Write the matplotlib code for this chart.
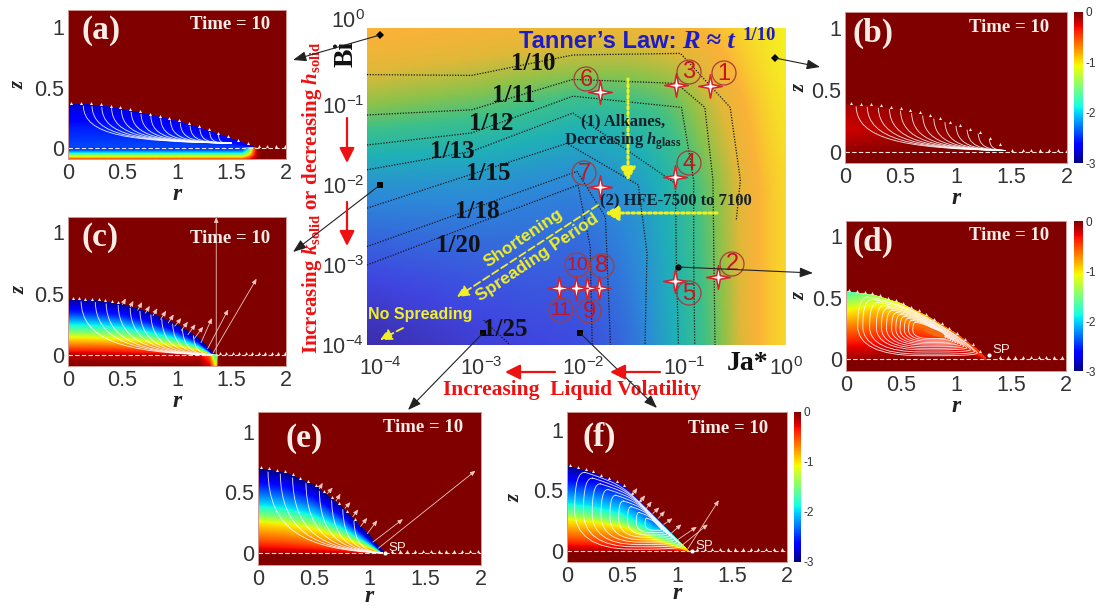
import numpy as np
import matplotlib
matplotlib.use("Agg")
import matplotlib.pyplot as plt
from matplotlib.colors import LinearSegmentedColormap
from matplotlib.patches import Circle, Ellipse, PathPatch
from matplotlib.path import Path
from matplotlib.cm import ScalarMappable
from matplotlib.colors import Normalize
from matplotlib.ticker import NullLocator

plt.rcParams['font.family'] = ['Liberation Sans', 'DejaVu Sans']
plt.rcParams['mathtext.fontset'] = 'custom'
plt.rcParams['mathtext.rm'] = 'Liberation Serif:bold'
plt.rcParams['mathtext.it'] = 'Liberation Serif:italic:bold'
plt.rcParams['mathtext.bf'] = 'Liberation Serif:bold'
SERIF = 'Liberation Serif'
W, H = 1099, 606

# ---------- main map ----------
ja_nodes = [-4.13, -3, -2, -1.5, -1.1, -0.7, -0.35, 0]
bi_nodes = [-4, -3, -2, -1, -0.5, -0.04]
map_values = [
    [.02, .12, .17, .27, .50, .66, .88, .97],
    [.18, .22, .23, .33, .52, .68, .88, .97],
    [.38, .38, .33, .40, .55, .70, .88, .97],
    [.72, .66, .58, .60, .66, .80, .92, .99],
    [.84, .80, .75, .75, .78, .86, .95, 1.0],
    [.91, .89, .86, .86, .89, .92, .97, 1.0],
]
map_colors = [(0, '#3b27a0'), (.15, '#3f45e0'), (.35, '#2c8ad8'), (.5, '#1fb0b8'),
              (.62, '#3dc08a'), (.72, '#8fc24a'), (.82, '#e0b838'), (.9, '#fbb238'), (1, '#f5f020')]

contour_1_10 = ([-4.13, -3.10, -2.10, -1.04, -0.55, -0.45, -0.49], [-0.62, -0.63, -0.375, -0.355, -1.03, -1.94, -2.44])
contour_1_11 = ([-4.13, -3.10, -2.10, -1.08, -0.80, -0.72, -0.70], [-1.125, -1.06, -0.68, -0.73, -1.03, -1.94, -4])
contour_1_12 = ([-4.13, -3.10, -2.10, -1.03, -0.91, -0.91, -0.90], [-1.5, -1.35, -0.89, -1.03, -1.94, -2.85, -4])
contour_1_13 = ([-4.13, -3.10, -2.10, -1.09, -1.08, -1.06], [-1.81, -1.58, -1.10, -1.98, -3.02, -4])
contour_1_15 = ([-4.13, -2.16, -1.455, -1.37, -1.39], [-2.29, -1.48, -2.0, -2.85, -4])
contour_1_18 = ([-4.13, -2.06, -1.78, -1.73], [-2.77, -1.83, -2.40, -4])
contour_1_20 = ([-4.13, -2.05, -1.93, -1.91], [-3.0, -2.0, -2.77, -4])
contour_1_25 = ([-2.98, -2.72], [-3.69, -4])
contours = [contour_1_10, contour_1_11, contour_1_12, contour_1_13, contour_1_15,
            contour_1_18, contour_1_20, contour_1_25]

star_ja = [-0.749, -1.084, -1.832, -1.094, -1.832, -0.667, -1.094, -1.839, -1.957, -2.069, -2.236]
star_bi = [-0.762, -0.75, -0.833, -1.896, -2.029, -3.146, -3.196, -3.283, -3.283, -3.283, -3.283]

# ---------- droplet panels: r, height, field table over (fraction of height, r) ----------
a_r = [0, .2, .4, .6, .8, 1.0, 1.2, 1.4, 1.6, 1.7]
a_h = [.36, .355, .335, .30, .26, .22, .165, .105, .04, .01]
a_cols = [0, 1.7]
a_fracs = [0, .5, 1]
a_field = [[-2.4, -2.4], [-2.55, -2.5], [-2.8, -2.65]]
a_strip_r = [0, 1.6, 1.66, 1.70, 1.74, 1.78, 2]
a_strip_z = [-.09, -.07, -.05, -.03, -.01, .003]
a_strip = [[-.35, -.35, -.3, -.2, 0, 0, 0],
           [-.95, -.95, -.6, -.3, -.1, 0, 0],
           [-1.5, -1.5, -1.0, -.5, -.1, 0, 0],
           [-2.0, -2.0, -1.4, -.6, -.1, 0, 0],
           [-2.4, -2.4, -1.7, -.7, -.1, 0, 0],
           [-2.45, -2.45, -1.9, -.8, -.1, 0, 0]]
a_lines = [.14, .22, .31, .40, .49, .58, .67, .76, .85, .94, 1.03, 1.12, 1.21, 1.30, 1.38]
a_end = (1.5, .04)
a_dots = [.03, .12, .21, .3, .39, .48, .57, .66, .75, .84, .93, 1.02, 1.11, 1.2, 1.29, 1.38, 1.47, 1.56, 1.65,
          1.75, 1.83, 1.91, 1.99]

b_r = [0, .25, .5, .75, 1.0, 1.25, 1.47]
b_h = [.378, .37, .34, .29, .216, .135, .01]
b_cols = [0, .5, 1.0, 1.47]
b_fracs = [0, .5, 1]
b_field = [[-.05, -.02, 0, 0], [-.22, -.13, -.05, 0], [-.12, -.06, -.02, 0]]
b_lines = [.10, .2, .3, .4, .5, .6, .7, .8, .9, 1.0, 1.1, 1.2, 1.3]
b_end = (1.45, .012)
b_dots = [.05, .14, .23, .32, .41, .5, .59, .68, .77, .86, .95, 1.04, 1.13, 1.22, 1.31, 1.4, 1.5,
          1.6, 1.68, 1.76, 1.84, 1.92, 2.0]

c_r = [0, .25, .5, .75, 1.0, 1.2, 1.35]
c_h = [.45, .44, .41, .34, .245, .135, .0]
c_cols = [0, 1.35]
c_fracs = [0, .13, .31, .44, .6, .78, 1]
c_field = [[-.1, -.2], [-.5, -.5], [-1, -1], [-1.5, -1.5], [-2, -2], [-2.5, -2.5], [-2.9, -2.9]]
c_strip_r = [0, 1.2, 1.3, 1.33, 1.36, 1.38, 2]
c_strip_z = [-.09, .003]
c_strip = [[0, 0, -.2, -.6, -1, 0, 0], [-.15, -.2, -.6, -1.2, -2, 0, 0]]
c_lines = [.12, .25, .35, .46, .57, .66, .76, .86, .96, 1.05, 1.15]
c_end = (1.33, .0)
c_dots = [.05, .1, .16, .22, .28, .34, .4, .46, 1.39, 1.45, 1.51, 1.57, 1.63, 1.69, 1.75, 1.81, 1.87, 1.93, 1.99]
c_ar_x0 = [.5, .57, .64, .71, .78, .85, .92, .98, 1.04, 1.10, 1.16, 1.22, 1.28, 1.33, 1.36]
c_ar_y0 = [.41, .39, .365, .34, .32, .29, .26, .235, .20, .165, .135, .10, .05, .015, .0]
c_ar_x1 = [.53, .60, .68, .75, .82, .90, .97, 1.04, 1.10, 1.17, 1.24, 1.32, 1.47, 1.73, 1.36]
c_ar_y1 = [.46, .44, .43, .40, .38, .36, .33, .30, .27, .25, .23, .30, .37, .62, 1.12]

d_r = [0, .25, .5, .75, 1.0, 1.2, 1.27]
d_h = [.547, .52, .45, .34, .205, .07, .0]
d_cols = [0, .3, .6, .9, 1.27]
d_fracs = [0, .25, .5, .75, 1]
d_field = [[-.1, -.05, 0, 0, 0],
           [-.35, -.3, -.2, -.2, -.1],
           [-.7, -.55, -.4, -.4, -.3],
           [-1.1, -.85, -.7, -.5, -.4],
           [-1.7, -1.3, -1.0, -.7, -.4]]
d_focus = (.8, .22)
d_scales = [.9, .84, .76, .68, .62, .56, .5, .45, .4, .35, .3, .25]
d_dots = [.03, .1, .17, .24, .31, .38, .45, .52, .59, .66, .73, .8, .87, .94, 1.01, 1.08, 1.15, 1.22,
          1.4, 1.47, 1.54, 1.61, 1.68, 1.75, 1.82, 1.89, 1.96]

e_r = [0, .25, .5, .75, 1.0, 1.13]
e_h = [.70, .66, .56, .38, .137, 0]
e_cols = [0, 1.13]
e_fracs = [0, .14, .36, .46, .6, .8, 1]
e_field = [[-.1, -.2], [-.5, -.6], [-1, -1.1], [-1.5, -1.5], [-2, -2], [-2.5, -2.5], [-2.95, -2.9]]
e_lines = [.09, .2, .31, .43, .55, .66, .76, .86]
e_end = (1.12, .0)
e_dots = [.03, .1, .17, .24, .31, .38, .45, .52, .59, .66, .73, .8, .87, 1.2, 1.27, 1.34, 1.41, 1.48, 1.55,
          1.62, 1.69, 1.76, 1.83, 1.9, 1.97]
e_ar_x0 = [.55, .62, .70, .78, .85, .92, .98, 1.03, 1.08]
e_ar_y0 = [.53, .49, .43, .37, .30, .22, .16, .09, .04]
e_ar_x1 = [.58, .67, .74, .83, .90, .98, 1.07, 1.30, 1.95]
e_ar_y1 = [.58, .54, .49, .42, .36, .29, .27, .28, .68]

f_r = [0, .25, .5, .75, 1.0, 1.1]
f_h = [.70, .64, .545, .325, .09, 0]
f_cols = [0, .8, 1.0, 1.1]
f_fracs = [0, .14, .36, .46, .6, .8, 1]
f_field = [[-.1, -.1, -.1, -.1],
           [-.5, -.5, -.4, -.2],
           [-1, -1, -.8, -.4],
           [-1.5, -1.5, -1.1, -.5],
           [-2, -1.9, -1.4, -.6],
           [-2.5, -2.2, -1.6, -.7],
           [-2.95, -2.5, -1.8, -.8]]
f_focus = (.83, .2)
f_scales = [.95, .85, .75, .65, .55, .45, .35, .25, .15]
f_dots = [.03, .1, .17, .24, .31, .38, .45, .52, .59, .66, 1.18, 1.25, 1.32, 1.39, 1.46, 1.53, 1.6, 1.67,
          1.74, 1.81, 1.88, 1.95]
f_ar_x0 = [.6, .66, .72, .78, .83, .88, .94, 1.0, 1.05, 1.1]
f_ar_y0 = [.47, .40, .35, .31, .27, .22, .14, .09, .05, .02]
f_ar_x1 = [.64, .71, .77, .84, .89, .96, 1.04, 1.18, 1.28, 1.38]
f_ar_y1 = [.52, .46, .41, .36, .33, .27, .22, .20, .22, .42]

# ---------- helpers ----------
fig = plt.figure(figsize=(W / 100, H / 100), dpi=100, facecolor='white')


def rect(x0, y0, x1, y1):
    return [x0 / W, 1 - y1 / H, (x1 - x0) / W, (y1 - y0) / H]


def grid2(xn, yn, Z, xf, yf):
    Z = np.asarray(Z, float)
    rows = np.array([np.interp(xf, xn, row) for row in Z])
    return np.array([np.interp(yf, yn, rows[:, i]) for i in range(rows.shape[1])]).T


def chaikin(P, n=3):
    for _ in range(n):
        Q = np.roll(P, -1, axis=0)
        P = np.column_stack([.75 * P + .25 * Q, .25 * P + .75 * Q]).reshape(-1, 2)
    return P


def panel(box, name, tx, ty, r, h, cols, fracs, field, strip=None, lines=None, end=None,
          focus=None, scales=None, dots=(), arrows=None, zlabel=None, sp=None, time_x=.56, time_y=.9, cbar=None,
          lw=.65, xpad=0):
    x0, y0, x1, y1, z0px, z1px = box
    ax = fig.add_axes(rect(x0, y0, x1, y1), facecolor='#800000')
    s = z0px - z1px
    ax.set_xlim(0, 2)
    ax.set_ylim(-(y1 - z0px) / s, (z0px - y0) / s)
    R = r[-1]
    rf = np.linspace(0, R, 260)
    ff = np.linspace(0, 1, 140)
    V = grid2(cols, fracs, field, rf, ff)
    hf = np.interp(rf, r, h)
    X, F = np.meshgrid(rf, ff)
    Z = F * hf
    ax.pcolormesh(X, Z, V, cmap='jet', vmin=-3, vmax=0, shading='gouraud')
    if strip is not None:
        sr, sz, st = strip
        xs = np.linspace(0, 2, 400)
        zs = np.linspace(sz[0], sz[-1], 50)
        ax.pcolormesh(xs, zs, grid2(sr, sz, st, xs, zs), cmap='jet', vmin=-3, vmax=0, shading='gouraud')
    if lines is not None:
        for r0 in lines:
            h0 = np.interp(r0, r, h) * .98
            verts = [(r0, h0), (r0 + .01, h0 * .3), (r0 + .3 * (end[0] - r0), end[1] + h0 * .04), end]
            ax.add_patch(PathPatch(Path(verts, [Path.MOVETO, Path.CURVE4, Path.CURVE4, Path.CURVE4]),
                                   fc='none', ec='white', lw=lw, alpha=.85))
    if scales is not None:
        base = np.column_stack([np.r_[.03, np.array(r[1:])], np.r_[h[0], np.array(h[1:])]])
        base = np.vstack([base, [[.03, .012]]])
        base = chaikin(base)
        F0 = np.array(focus)
        for sc in scales:
            P = F0 + sc * (base - F0)
            P = np.vstack([P, P[0]])
            ax.plot(P[:, 0], P[:, 1], color='white', lw=lw, alpha=.85)
    ax.plot([0, 2], [0, 0], color='#f4e4e0', lw=.8, ls=(0, (4, 2)))
    if len(dots):
        dr = np.array(dots)
        ax.plot(dr, np.where(dr < R, np.interp(dr, r, h), 0) + .015, ls='none', marker='^', ms=2.2,
                color='#f8e8e0', mew=0)
    if arrows is not None:
        for xa, ya, xb, yb in zip(*arrows):
            ax.annotate('', xy=(xb, yb), xytext=(xa, ya),
                        arrowprops=dict(arrowstyle='-|>,head_width=.13,head_length=.3', color='#eec8c0', lw=.6,
                                        shrinkA=0, shrinkB=0))
    if sp is not None:
        ax.plot([sp[0]], [sp[1]], 'o', ms=3, color='white', mew=0)
        ax.text(sp[0] + .03, sp[1] + .045, 'SP', color='#f8e8e0', fontsize=9.5, va='center')
    ax.set_xticks([0, .5, 1, 1.5, 2])
    ax.set_xticklabels(['0', '0.5', '1', '1.5', '2'])
    ax.set_yticks([0, .5, 1])
    ax.set_yticklabels(['0', '0.5', '1'])
    ax.tick_params(length=0, labelsize=15.5, labelcolor='#333333', pad=3)
    for sp_ in ax.spines.values():
        sp_.set_color('#d09a94')
        sp_.set_linewidth(.7)
    ax.set_xlabel('r', family=SERIF, style='italic', weight='bold', fontsize=17, labelpad=xpad, color='#222222')
    if zlabel:
        ov.text(zlabel[0], zlabel[1], 'z', family=SERIF, style='italic', weight='bold', fontsize=15,
                rotation=90, ha='center', va='center', color='#222222')
    ax.text(time_x, time_y, 'Time = 10', transform=ax.transAxes, color='#f7ece6', family=SERIF, weight='bold',
            fontsize=13.5, va='center')
    ax.text(tx, ty, name, transform=ax.transAxes, color='#f7ece6', family=SERIF, weight='bold', fontsize=24,
            va='center')
    if cbar is not None:
        cax = fig.add_axes(rect(cbar[0], y0, cbar[1], y1))
        cb = fig.colorbar(ScalarMappable(Normalize(-3, 0), 'jet'), cax=cax)
        cb.set_ticks([0, -1, -2, -3])
        cb.set_ticklabels(['0', '-1', '-2', '-3'])
        cb.ax.tick_params(length=0, labelsize=8.5, labelcolor='#333333', pad=2)
        cb.outline.set_visible(False)
    return ax


# overlay in pixel coordinates for annotations
ov = fig.add_axes([0, 0, 1, 1], zorder=10)
ov.set_xlim(0, W)
ov.set_ylim(H, 0)
ov.axis('off')

# ---------- main map ----------
m = fig.add_axes(rect(367, 28, 786, 345))
m.set_xscale('log')
m.set_yscale('log')
xf = np.linspace(ja_nodes[0], ja_nodes[-1], 300)
yf = np.linspace(bi_nodes[0], bi_nodes[-1], 220)
Zm = grid2(ja_nodes, bi_nodes, map_values, xf, yf)
kernel = np.ones(25) / 25
Zpad = np.pad(Zm, 12, mode='edge')
Zpad = np.apply_along_axis(lambda v: np.convolve(v, kernel, 'same'), 0, Zpad)
Zpad = np.apply_along_axis(lambda v: np.convolve(v, kernel, 'same'), 1, Zpad)
Zm = Zpad[12:-12, 12:-12]
cm_main = LinearSegmentedColormap.from_list('map', map_colors)
m.pcolormesh(10 ** xf, 10 ** yf, Zm, cmap=cm_main, vmin=0, vmax=1, shading='gouraud')
for xs_, ys_ in contours:
    m.plot(10 ** np.array(xs_), 10 ** np.array(ys_), color='#161616', lw=.9, ls=(0, (1, 1.2)))
star_r = [1, .22, 1, .22, 1, .22, 1, .22, 1]
star_a = np.deg2rad([90, 135, 180, 225, 270, 315, 0, 45, 90])
star_path = Path(np.column_stack([np.array(star_r) * np.cos(star_a), np.array(star_r) * np.sin(star_a)]), closed=True)
m.plot(10 ** np.array(star_ja), 10 ** np.array(star_bi), ls='none', marker=star_path, ms=17,
       mfc='white', mec='#d8202c', mew=1.1)
m.set_xlim(10 ** -4.13, 1)
m.set_ylim(1e-4, 10 ** -0.0375)
m.set_xticks([1e-4, 1e-3, 1e-2, 1e-1, 1])
m.set_xticklabels([r'$\mathdefault{10^{-4}}$', r'$\mathdefault{10^{-3}}$', r'$\mathdefault{10^{-2}}$',
                   r'$\mathdefault{10^{-1}}$', r'$\mathdefault{10^{0}}$'])
m.set_yticks([1e-4, 1e-3, 1e-2, 1e-1])
m.set_yticklabels([r'$\mathdefault{10^{-4}}$', r'$\mathdefault{10^{-3}}$', r'$\mathdefault{10^{-2}}$',
                   r'$\mathdefault{10^{-1}}$'])
m.xaxis.set_minor_locator(NullLocator())
m.yaxis.set_minor_locator(NullLocator())
m.tick_params(length=0, labelsize=15.5, labelcolor='#333333', pad=9)
m.tick_params(axis='y', pad=2)
for s_ in m.spines.values():
    s_.set_visible(False)

# ---------- panels ----------
panel((68, 10, 286, 159, 148, 27), '(a)', .06, .86, a_r, a_h, a_cols, a_fracs, a_field,
      strip=(a_strip_r, a_strip_z, a_strip), lines=a_lines, end=a_end, dots=a_dots, zlabel=(19, 85))
panel((845, 12, 1067, 163, 152, 28), '(b)', .035, .86, b_r, b_h, b_cols, b_fracs, b_field,
      lines=b_lines, end=b_end, dots=b_dots, zlabel=(800, 88), cbar=(1074, 1083))
panel((68, 217, 286, 366, 355, 232), '(c)', .06, .86, c_r, c_h, c_cols, c_fracs, c_field,
      strip=(c_strip_r, c_strip_z, c_strip), lines=c_lines, end=c_end, dots=c_dots,
      arrows=(c_ar_x0, c_ar_y0, c_ar_x1, c_ar_y1), zlabel=(20, 290), time_y=.855)
dax = panel((846, 221, 1066, 371, 359, 236), '(d)', .03, .86, d_r, d_h, d_cols, d_fracs, d_field,
            focus=d_focus, scales=d_scales, dots=d_dots, zlabel=(800, 296), sp=(1.3, .03), cbar=(1074, 1083))
dax.add_patch(Ellipse((.8, .215), .2, .05, angle=-17, fc='#f26a14', ec='none', zorder=5))
panel((258, 412, 481, 565, 553, 432), '(e)', .125, .83, e_r, e_h, e_cols, e_fracs, e_field,
      lines=e_lines, end=e_end, dots=e_dots, arrows=(e_ar_x0, e_ar_y0, e_ar_x1, e_ar_y1), sp=(1.14, 0), xpad=-3)
panel((567, 412, 787, 562, 551, 430), '(f)', .07, .83, f_r, f_h, f_cols, f_fracs, f_field,
      focus=f_focus, scales=f_scales, dots=f_dots, arrows=(f_ar_x0, f_ar_y0, f_ar_x1, f_ar_y1), zlabel=(515, 498),
      sp=(1.14, 0), cbar=(794, 801), time_x=.55, time_y=.89, xpad=-3)

# ---------- annotations ----------
BOLD = dict(family=SERIF, weight='bold')
ov.text(365, 22, r'$\mathdefault{10^{0}}$', fontsize=15.5, color='#333333', ha='right', va='center')
ov.text(346, 54, 'Bi', fontsize=20, rotation=90, ha='center', va='center', color='#111111', **BOLD)
ov.text(748, 363, 'Ja*', fontsize=20, ha='center', va='center', color='#111111', **BOLD)
ov.text(312, 198, r'Increasing $\mathit{k}_{\mathbf{solid}}$ or decreasing $\mathit{h}_{\mathbf{solid}}$',
        color='#ee1111', fontsize=15, rotation=90, ha='center', va='center', **BOLD)
ov.text(572, 390, 'Increasing  Liquid Volatility', color='#ee1111', fontsize=15.5, ha='center', va='center', **BOLD)

ov.text(519, 41, "Tanner\u2019s Law:", color='#1c1cc8', fontsize=17, weight='bold', ha='left', va='center')
ov.text(682, 41, 'R \u2248 t', color='#1c1cc8', fontsize=19, ha='left', va='center', family=SERIF,
        style='italic', weight='bold')
ov.text(743, 35, '1/10', color='#1c1cc8', fontsize=13.5, ha='left', va='center', **BOLD)

fraction_labels = ['1/10', '1/11', '1/12', '1/13', '1/15', '1/18', '1/20', '1/25']
fraction_x = [533, 514, 491, 452, 488, 477, 458, 505]
fraction_y = [64, 95, 123, 151, 174, 211, 246, 330]
for t_, x_, y_ in zip(fraction_labels, fraction_x, fraction_y):
    ov.text(x_, y_, t_, fontsize=18, color='#111111', ha='center', va='center', **BOLD)

circle_labels = ['1', '3', '6', '4', '7', '2', '5', '8', '10', '11', '9']
circle_x = [724, 689, 586, 689, 584, 732, 689, 602, 577, 561, 589]
circle_y = [73, 72, 79, 163, 173, 264, 293, 266, 265, 310, 311]
for t_, x_, y_ in zip(circle_labels, circle_x, circle_y):
    ov.add_patch(Circle((x_, y_), 12, fc='none', ec='#a83c3c', lw=.9))
    ov.text(x_, y_ + .5, t_, fontsize=17 if len(t_) == 1 else 14, color='#c8141e', ha='center', va='center')


def arr(p0, p1, color, lw=1.0, ls='-', hw=.35, hl=.7):
    ov.annotate('', xy=p1, xytext=p0,
                arrowprops=dict(arrowstyle=f'-|>,head_width={hw},head_length={hl}', color=color, lw=lw, ls=ls,
                                shrinkA=0, shrinkB=0))


black_arrows = [((380, 35), (293, 60)), ((775, 58), (820, 67)), ((380, 185), (293, 252)),
                ((678, 267), (813, 273)), ((483, 333), (408, 410)), ((580, 333), (657, 408))]
marker_kind = ['D', 'D', 's', 'o', 's', 's']
for (p0, p1), k_ in zip(black_arrows, marker_kind):
    arr(p0, p1, '#222222', lw=.8, hw=.3, hl=.8)
    ov.plot([p0[0]], [p0[1]], k_, ms=4.5, color='black', mew=0)

for p0, p1 in [((347, 118), (347, 163)), ((347, 202), (347, 246)), ((555, 372), (505, 372)), ((660, 372), (610, 372))]:
    arr(p0, p1, '#ee1111', lw=1.6, hw=.45, hl=.9)

arr((628, 79), (628, 181), '#f2f020', lw=2.2, ls=(0, (.8, 1)), hw=.45, hl=.8)
arr((717, 213), (605, 213), '#f2f020', lw=2.2, ls=(0, (.8, 1)), hw=.45, hl=.8)
arr((598, 205), (457, 297), '#f2f020', lw=1.3, ls=(0, (4, 2)), hw=.35, hl=.7)
arr((403, 328), (380, 340), '#f2f020', lw=1.3, ls=(0, (4, 2)), hw=.35, hl=.7)

ov.text(623, 121, '(1) Alkanes,', fontsize=12, color='#14202c', ha='center', va='center', **BOLD)
ov.text(623, 141, r'Decreasing $\mathit{h}_{\mathbf{glass}}$', fontsize=12, color='#14202c', ha='center', va='center', **BOLD)
ov.text(676, 201, '(2) HFE-7500 to 7100', fontsize=12, color='#14202c', ha='center', va='center', **BOLD)
ov.text(523, 238, 'Shortening', fontsize=12.5, weight='bold', color='#f2f020', rotation=34, ha='center', va='center')
ov.text(537, 258, 'Spreading Period', fontsize=12.5, weight='bold', color='#f2f020', rotation=34, ha='center', va='center')
ov.text(420, 315, 'No Spreading', fontsize=11.5, weight='bold', color='#f2f020', ha='center', va='center')

fig.savefig('out.png', dpi=100)
